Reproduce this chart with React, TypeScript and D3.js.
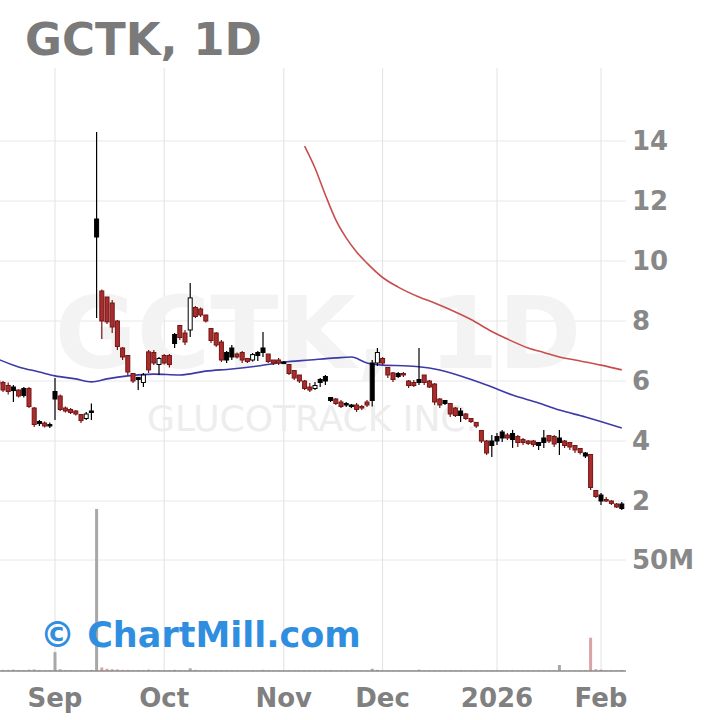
import React from 'react';
import * as d3 from 'd3';

// [date, open, high, low, close, style (r=red filled, b=black filled, h=hollow), volume in M]
type Row = [string, number, number, number, number, string, number];
const candles: Row[] = [
  ['2025-08-15', 6.0, 6.1, 5.8, 5.9, 'r', 0.6],
  ['2025-08-18', 5.95, 6.0, 5.63, 5.7, 'r', 0.5],
  ['2025-08-19', 5.85, 5.95, 5.55, 5.65, 'r', 0.5],
  ['2025-08-20', 5.8, 5.87, 5.3, 5.68, 'b', 0.6],
  ['2025-08-21', 5.7, 5.72, 5.45, 5.5, 'r', 0.4],
  ['2025-08-22', 5.75, 5.8, 5.45, 5.52, 'b', 0.4],
  ['2025-08-25', 5.75, 5.8, 5.1, 5.15, 'r', 0.6],
  ['2025-08-26', 5.1, 5.13, 4.47, 4.55, 'r', 0.7],
  ['2025-08-27', 4.65, 4.7, 4.5, 4.58, 'b', 0.4],
  ['2025-08-28', 4.6, 4.65, 4.45, 4.5, 'r', 0.3],
  ['2025-08-29', 4.55, 4.62, 4.43, 4.52, 'b', 0.3],
  ['2025-09-02', 5.65, 6.1, 4.7, 5.4, 'b', 8.5],
  ['2025-09-03', 5.5, 5.55, 5.0, 5.05, 'r', 0.8],
  ['2025-09-04', 5.1, 5.15, 4.95, 5.0, 'r', 0.4],
  ['2025-09-05', 5.05, 5.1, 4.9, 4.95, 'r', 0.3],
  ['2025-09-08', 5.0, 5.03, 4.85, 4.9, 'r', 0.3],
  ['2025-09-09', 4.88, 4.9, 4.6, 4.68, 'r', 0.3],
  ['2025-09-10', 4.75, 4.97, 4.7, 4.9, 'h', 0.3],
  ['2025-09-11', 5.0, 5.25, 4.7, 4.95, 'b', 0.5],
  ['2025-09-12', 11.4, 14.3, 8.1, 10.8, 'b', 73],
  ['2025-09-15', 9.0, 9.05, 7.4, 8.0, 'r', 1.6],
  ['2025-09-16', 8.8, 8.8, 7.9, 7.97, 'r', 1.0],
  ['2025-09-17', 8.6, 8.7, 7.6, 7.8, 'r', 0.8],
  ['2025-09-18', 8.0, 8.03, 7.03, 7.15, 'r', 0.7],
  ['2025-09-19', 7.1, 7.13, 6.7, 6.8, 'r', 0.5],
  ['2025-09-22', 6.85, 6.87, 6.2, 6.3, 'r', 0.5],
  ['2025-09-23', 6.25, 6.27, 5.93, 6.0, 'r', 0.4],
  ['2025-09-24', 6.12, 6.13, 5.7, 6.05, 'b', 0.4],
  ['2025-09-25', 5.95, 6.27, 5.8, 6.2, 'h', 0.3],
  ['2025-09-26', 6.97, 7.03, 6.27, 6.37, 'r', 0.6],
  ['2025-09-29', 6.95, 7.03, 6.53, 6.6, 'r', 0.4],
  ['2025-09-30', 6.55, 6.8, 6.2, 6.75, 'h', 0.3],
  ['2025-10-01', 6.85, 6.9, 6.55, 6.6, 'r', 0.3],
  ['2025-10-02', 6.85, 6.9, 6.45, 6.55, 'r', 0.3],
  ['2025-10-03', 7.55, 7.6, 7.1, 7.25, 'b', 0.5],
  ['2025-10-06', 7.85, 7.87, 7.37, 7.45, 'r', 0.4],
  ['2025-10-07', 7.6, 7.7, 7.2, 7.3, 'r', 0.3],
  ['2025-10-08', 7.7, 9.27, 7.47, 8.77, 'h', 1.2],
  ['2025-10-09', 8.45, 8.5, 8.1, 8.15, 'r', 0.5],
  ['2025-10-10', 8.4, 8.45, 8.13, 8.2, 'r', 0.3],
  ['2025-10-13', 8.2, 8.2, 7.95, 8.0, 'r', 0.3],
  ['2025-10-14', 7.75, 7.77, 7.27, 7.35, 'r', 0.3],
  ['2025-10-15', 7.6, 7.63, 7.13, 7.2, 'r', 0.3],
  ['2025-10-16', 7.3, 7.37, 6.63, 6.7, 'r', 0.4],
  ['2025-10-17', 6.95, 7.0, 6.6, 6.7, 'b', 0.3],
  ['2025-10-20', 7.1, 7.2, 6.7, 6.8, 'b', 0.3],
  ['2025-10-21', 6.9, 6.95, 6.75, 6.8, 'r', 0.2],
  ['2025-10-22', 6.95, 7.0, 6.6, 6.7, 'r', 0.2],
  ['2025-10-23', 6.75, 6.77, 6.6, 6.65, 'r', 0.2],
  ['2025-10-24', 6.7, 6.93, 6.65, 6.88, 'h', 0.2],
  ['2025-10-27', 6.95, 7.0, 6.67, 6.85, 'b', 0.2],
  ['2025-10-28', 7.1, 7.63, 6.8, 6.95, 'b', 0.5],
  ['2025-10-29', 6.9, 6.9, 6.6, 6.65, 'r', 0.3],
  ['2025-10-30', 6.7, 6.7, 6.53, 6.6, 'r', 0.2],
  ['2025-10-31', 6.7, 6.77, 6.53, 6.6, 'r', 0.2],
  ['2025-11-03', 6.63, 6.67, 6.57, 6.6, 'b', 0.2],
  ['2025-11-04', 6.55, 6.57, 6.2, 6.25, 'r', 0.3],
  ['2025-11-05', 6.35, 6.37, 6.03, 6.1, 'r', 0.3],
  ['2025-11-06', 6.2, 6.2, 5.93, 6.0, 'r', 0.2],
  ['2025-11-07', 6.0, 6.03, 5.7, 5.75, 'r', 0.3],
  ['2025-11-10', 5.8, 5.93, 5.63, 5.7, 'r', 0.2],
  ['2025-11-11', 5.75, 5.97, 5.7, 5.85, 'h', 0.2],
  ['2025-11-12', 6.05, 6.1, 5.8, 5.95, 'b', 0.2],
  ['2025-11-13', 6.15, 6.2, 5.87, 6.0, 'b', 0.3],
  ['2025-11-14', 5.45, 5.47, 5.3, 5.35, 'b', 0.4],
  ['2025-11-17', 5.4, 5.43, 5.2, 5.25, 'r', 0.2],
  ['2025-11-18', 5.3, 5.37, 5.1, 5.15, 'r', 0.2],
  ['2025-11-19', 5.25, 5.3, 5.13, 5.2, 'b', 0.2],
  ['2025-11-20', 5.2, 5.23, 5.1, 5.15, 'b', 0.2],
  ['2025-11-21', 5.2, 5.27, 4.97, 5.05, 'r', 0.2],
  ['2025-11-24', 5.15, 5.2, 5.03, 5.1, 'r', 0.2],
  ['2025-11-25', 5.3, 5.37, 5.13, 5.2, 'r', 0.2],
  ['2025-11-26', 6.6, 6.7, 5.15, 5.35, 'b', 1.0],
  ['2025-11-28', 6.6, 7.1, 6.5, 6.95, 'h', 0.5],
  ['2025-12-01', 6.75, 6.8, 6.53, 6.6, 'r', 0.3],
  ['2025-12-02', 6.45, 6.47, 6.1, 6.2, 'r', 0.3],
  ['2025-12-03', 6.27, 6.3, 5.97, 6.05, 'r', 0.2],
  ['2025-12-04', 6.25, 6.3, 6.1, 6.15, 'b', 0.2],
  ['2025-12-05', 6.25, 6.3, 6.13, 6.2, 'r', 0.2],
  ['2025-12-08', 6.0, 6.03, 5.77, 5.85, 'r', 0.2],
  ['2025-12-09', 5.95, 6.03, 5.8, 5.85, 'r', 0.2],
  ['2025-12-10', 6.05, 7.1, 5.87, 5.95, 'b', 0.6],
  ['2025-12-11', 6.2, 6.2, 5.87, 5.95, 'r', 0.3],
  ['2025-12-12', 6.0, 6.03, 5.77, 5.8, 'r', 0.2],
  ['2025-12-15', 5.9, 5.93, 5.2, 5.3, 'r', 0.3],
  ['2025-12-16', 5.4, 5.43, 5.1, 5.2, 'r', 0.2],
  ['2025-12-17', 5.35, 5.37, 5.2, 5.25, 'b', 0.2],
  ['2025-12-18', 5.25, 5.27, 4.8, 4.9, 'r', 0.3],
  ['2025-12-19', 5.1, 5.13, 4.8, 4.85, 'r', 0.2],
  ['2025-12-22', 5.0, 5.1, 4.63, 4.85, 'b', 0.3],
  ['2025-12-23', 4.9, 4.93, 4.7, 4.75, 'r', 0.2],
  ['2025-12-24', 4.75, 4.77, 4.6, 4.65, 'r', 0.2],
  ['2025-12-26', 4.62, 4.63, 4.43, 4.5, 'r', 0.2],
  ['2025-12-29', 4.35, 4.37, 3.93, 4.0, 'r', 0.3],
  ['2025-12-30', 4.0, 4.03, 3.53, 3.6, 'r', 0.3],
  ['2025-12-31', 4.0, 4.2, 3.47, 3.85, 'b', 0.3],
  ['2026-01-02', 4.15, 4.27, 3.87, 4.0, 'b', 0.3],
  ['2026-01-05', 4.3, 4.37, 3.97, 4.1, 'b', 0.3],
  ['2026-01-06', 4.2, 4.27, 4.03, 4.1, 'r', 0.2],
  ['2026-01-07', 4.25, 4.37, 3.77, 4.05, 'b', 0.3],
  ['2026-01-08', 4.15, 4.2, 3.8, 3.95, 'r', 0.2],
  ['2026-01-09', 4.05, 4.1, 3.87, 3.95, 'r', 0.2],
  ['2026-01-12', 4.0, 4.03, 3.87, 3.92, 'r', 0.2],
  ['2026-01-13', 4.0, 4.03, 3.8, 3.88, 'r', 0.2],
  ['2026-01-14', 3.95, 3.97, 3.7, 3.85, 'b', 0.2],
  ['2026-01-15', 4.1, 4.37, 3.77, 3.95, 'b', 0.3],
  ['2026-01-16', 4.18, 4.2, 3.93, 4.0, 'r', 0.2],
  ['2026-01-20', 4.15, 4.2, 3.8, 3.9, 'r', 0.2],
  ['2026-01-21', 4.1, 4.37, 3.53, 3.95, 'b', 2.7],
  ['2026-01-22', 4.0, 4.03, 3.77, 3.85, 'r', 0.2],
  ['2026-01-23', 3.95, 3.97, 3.7, 3.8, 'r', 0.2],
  ['2026-01-26', 3.85, 3.87, 3.6, 3.7, 'r', 0.2],
  ['2026-01-27', 3.75, 3.77, 3.55, 3.62, 'r', 0.2],
  ['2026-01-28', 3.6, 3.63, 3.43, 3.5, 'b', 0.3],
  ['2026-01-29', 3.55, 3.57, 2.37, 2.45, 'r', 15],
  ['2026-01-30', 2.35, 2.37, 2.1, 2.15, 'r', 0.8],
  ['2026-02-02', 2.2, 2.27, 1.87, 2.0, 'b', 0.6],
  ['2026-02-03', 2.05, 2.13, 1.97, 2.0, 'r', 0.3],
  ['2026-02-04', 2.0, 2.03, 1.87, 1.92, 'r', 0.3],
  ['2026-02-05', 1.9, 1.93, 1.77, 1.8, 'r', 0.3],
  ['2026-02-06', 1.9, 1.97, 1.7, 1.75, 'b', 0.4],
];

const monthTickDates = ['2025-09-02', '2025-10-01', '2025-11-03', '2025-12-01', '2026-01-02', '2026-02-02'];
const monthTickLabels = ['Sep', 'Oct', 'Nov', 'Dec', '2026', 'Feb'];
const priceTicks = [2, 4, 6, 8, 10, 12, 14];
const volumeTicks = [50];
const volumeTickLabels = ['50M'];

const maShortDates = ['2025-08-15', '2025-08-21', '2025-08-27', '2025-09-02', '2025-09-08', '2025-09-11', '2025-09-16', '2025-09-22', '2025-09-29', '2025-10-06', '2025-10-13', '2025-10-20', '2025-10-27', '2025-11-03', '2025-11-10', '2025-11-17', '2025-11-20', '2025-11-25', '2025-12-01', '2025-12-08', '2025-12-15', '2025-12-22', '2025-12-30', '2026-01-07', '2026-01-14', '2026-01-21', '2026-01-28', '2026-02-06'];
const maShortValues = [6.73, 6.47, 6.3, 6.17, 6.07, 5.97, 6.07, 6.17, 6.23, 6.2, 6.33, 6.4, 6.5, 6.63, 6.7, 6.77, 6.8, 6.6, 6.53, 6.5, 6.4, 6.17, 5.87, 5.53, 5.27, 5.03, 4.8, 4.43];

const maLongDates = ['2025-11-07', '2025-11-11', '2025-11-13', '2025-11-17', '2025-11-19', '2025-11-21', '2025-11-25', '2025-12-01', '2025-12-04', '2025-12-10', '2025-12-15', '2025-12-19', '2025-12-24', '2025-12-31', '2026-01-06', '2026-01-12', '2026-01-15', '2026-01-21', '2026-01-26', '2026-02-02', '2026-02-06'];
const maLongValues = [13.83, 13.1, 12.2, 11.37, 10.77, 10.3, 9.93, 9.45, 9.13, 8.8, 8.6, 8.3, 8.05, 7.65, 7.4, 7.1, 6.95, 6.8, 6.7, 6.53, 6.37];

const FONT = 'DejaVu Sans, sans-serif';

export default function App() {
  const plotLeft = 0;
  const plotRight = 626;
  const plotTop = 68;
  const volBase = 671;

  const dates = candles.map((d) => d[0]);
  const x = d3.scalePoint<string>().domain(dates).range([-2.2, 621.8]);
  const y = d3.scaleLinear().domain([0, 14]).range([561, 141]);
  const yv = d3.scaleLinear().domain([0, 50]).range([volBase, 560]);

  const lineShort = d3
    .line<number>()
    .x((_, i) => x(maShortDates[i]) as number)
    .y((v) => y(v))
    .curve(d3.curveMonotoneX);
  const lineLong = d3
    .line<number>()
    .x((_, i) => x(maLongDates[i]) as number)
    .y((v) => y(v))
    .curve(d3.curveMonotoneX);

  const bw = 4;
  const red = '#a82e2e';
  const redEdge = '#761414';

  return (
    <div style={{ position: 'fixed', left: 0, top: 0 }}>
      <svg width={720} height={720} style={{ display: 'block', background: '#fff' }}>
        <defs>
          <clipPath id="plot">
            <rect x={plotLeft} y={plotTop} width={plotRight - plotLeft} height={volBase - plotTop} />
          </clipPath>
        </defs>
        <rect x={0} y={0} width={720} height={720} fill="#fff" />

        {/* grid */}
        {priceTicks.map((p) => (
          <line key={'gy' + p} x1={plotLeft} x2={plotRight} y1={y(p)} y2={y(p)} stroke="#e8e8e8" strokeWidth={1} />
        ))}
        {volumeTicks.map((v) => (
          <line key={'gv' + v} x1={plotLeft} x2={plotRight} y1={yv(v)} y2={yv(v)} stroke="#e8e8e8" strokeWidth={1} />
        ))}
        {monthTickDates.map((d) => (
          <line key={'gx' + d} x1={x(d)} x2={x(d)} y1={plotTop} y2={volBase} stroke="#e2e2e2" strokeWidth={1} />
        ))}

        {/* watermark */}
        <text x={318} y={368} textAnchor="middle" fontFamily={FONT} fontWeight="bold" fontSize={100} fill="#f3f3f3">
          GCTK, 1D
        </text>
        <text x={312} y={431} textAnchor="middle" fontFamily={FONT} fontSize={36} fill="#ededed">
          GLUCOTRACK INC.
        </text>

        <g clipPath="url(#plot)">
          {/* volume */}
          {candles.map((d) => (
            <rect
              key={'v' + d[0]}
              x={(x(d[0]) as number) - 1.5}
              width={3}
              y={yv(d[6])}
              height={volBase - yv(d[6])}
              fill={d[5] === 'r' ? '#d9a3a3' : '#a8a8a8'}
            />
          ))}

          {/* moving averages */}
          <path d={lineLong(maLongValues) || ''} fill="none" stroke="#c84e4e" strokeWidth={1.6} />
          <path d={lineShort(maShortValues) || ''} fill="none" stroke="#3a3aa8" strokeWidth={1.6} />

          {/* candles */}
          {candles.map((d) => {
            const cx = x(d[0]) as number;
            const [, o, h, l, c, s] = d;
            const top = y(Math.max(o, c));
            const bot = y(Math.min(o, c));
            const bh = Math.max(1.5, bot - top);
            const stroke = s === 'r' ? redEdge : '#000';
            const fill = s === 'r' ? red : s === 'h' ? '#fff' : '#000';
            return (
              <g key={'c' + d[0]}>
                <line x1={cx} x2={cx} y1={y(h)} y2={y(l)} stroke={stroke} strokeWidth={1.2} />
                <rect x={cx - bw / 2} y={top} width={bw} height={bh} fill={fill} stroke={stroke} strokeWidth={1} />
              </g>
            );
          })}
        </g>

        {/* base line */}
        <line x1={plotLeft} x2={plotRight} y1={volBase} y2={volBase} stroke="#8a8a8a" strokeWidth={1.5} />

        {/* right axis labels */}
        {priceTicks.map((p) => (
          <text key={'ty' + p} x={632} y={y(p)} dy="0.36em" fontFamily={FONT} fontWeight="bold" fontSize={26} fill="#888">
            {p}
          </text>
        ))}
        {volumeTicks.map((v, i) => (
          <text key={'tv' + v} x={632} y={yv(v)} dy="0.36em" fontFamily={FONT} fontWeight="bold" fontSize={26} fill="#888">
            {volumeTickLabels[i]}
          </text>
        ))}

        {/* bottom axis labels */}
        {monthTickDates.map((d, i) => (
          <text key={'tx' + d} x={x(d)} y={707} textAnchor="middle" fontFamily={FONT} fontWeight="bold" fontSize={26} fill="#808080">
            {monthTickLabels[i]}
          </text>
        ))}

        {/* title */}
        <text x={25} y={55} fontFamily={FONT} fontWeight="bold" fontSize={45} fill="#7a7a7a">
          GCTK, 1D
        </text>

        {/* copyright */}
        <text x={40} y={647} fontFamily={FONT} fontWeight="bold" fontSize={35} fill="#2f8ee0">
          © ChartMill.com
        </text>
      </svg>
    </div>
  );
}
